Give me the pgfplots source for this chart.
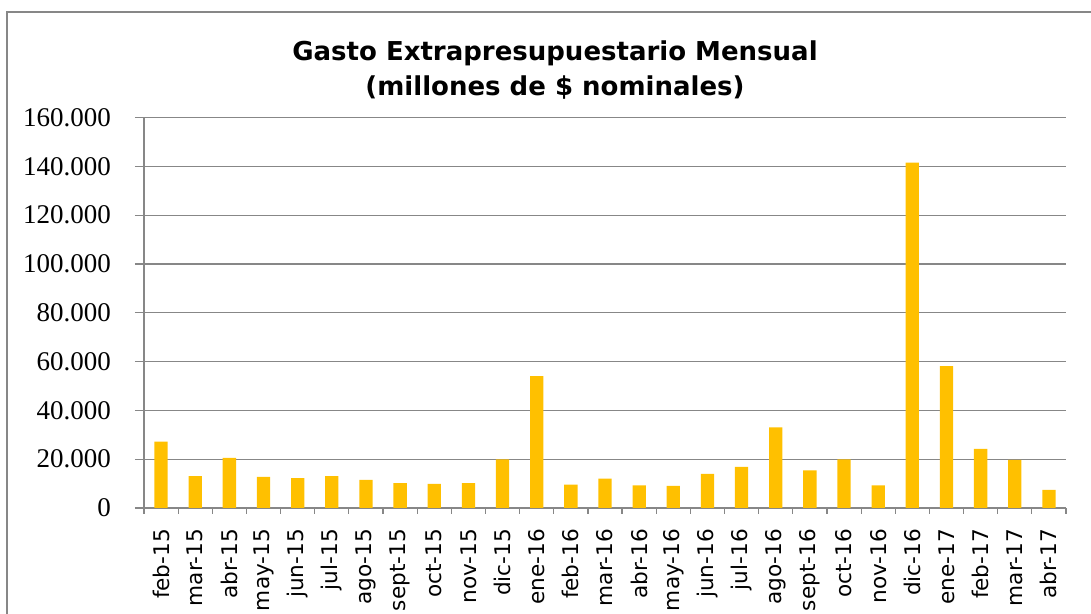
\documentclass[border=0pt]{standalone}
\usepackage{fontspec}
\setmainfont{Liberation Serif}
\newfontfamily\dejavu{DejaVu Sans}
\usepackage{pgfplots}
\pgfplotsset{compat=1.18}
\definecolor{barcol}{HTML}{FFC000}
\definecolor{gridcol}{HTML}{878787}
\begin{document}
\begin{tikzpicture}
\path[use as bounding box] (0,0) rectangle (545.5pt,307pt);
\draw[gridcol, line width=0.7pt] (3.5pt,-2pt) -- (3.5pt,301pt) -- (548pt,301pt);
\node[align=center, font=\fontsize{13}{17.5}\selectfont\dejavu\bfseries] at (277.5pt,271.75pt)
  {Gasto Extrapresupuestario Mensual\\(millones de \$ nominales)};
\begin{axis}[
  at={(72pt,53pt)}, anchor=south west,
  scale only axis, width=461pt, height=195.25pt,
  xmin=-0.5, xmax=26.5, ymin=0, ymax=160000,
  ytick={0,20000,40000,60000,80000,100000,120000,140000,160000},
  yticklabels={0,20.000,40.000,60.000,80.000,100.000,120.000,140.000,160.000},
  scaled y ticks=false,
  ymajorgrids,
  major grid style={gridcol, line width=0.6pt},
  axis x line*=bottom, axis y line*=left,
  axis line style={gridcol, line width=0.6pt, -},
  tick align=outside,
  major tick length=4.5pt,
  minor tick length=3pt,
  every tick/.style={gridcol, line width=0.6pt},
  xtick={0,...,26},
  major x tick style={draw=none},
  minor xtick={-0.5,0.5,...,26.5},
  minor x tick style={draw=gridcol, line width=0.6pt},
  xticklabels={feb-15,mar-15,abr-15,may-15,jun-15,jul-15,ago-15,sept-15,oct-15,nov-15,dic-15,ene-16,feb-16,mar-16,abr-16,may-16,jun-16,jul-16,ago-16,sept-16,oct-16,nov-16,dic-16,ene-17,feb-17,mar-17,abr-17},
  xticklabel style={rotate=90, anchor=east, font=\fontsize{10.8}{12}\selectfont\dejavu, xshift=-2.5pt},
  yticklabel style={font=\fontsize{13.5}{15}\selectfont, xshift=-8.5pt},
  ybar, bar width=6.65pt,
]
\addplot[fill=barcol, draw=none] coordinates {
(0,27200) (1,13100) (2,20500) (3,12800) (4,12200) (5,13100) (6,11500) (7,10200) (8,9900) (9,10200)
(10,19900) (11,54000) (12,9600) (13,12000) (14,9300) (15,9100) (16,14000) (17,16800) (18,33000)
(19,15400) (20,19900) (21,9300) (22,141500) (23,58100) (24,24200) (25,19700) (26,7400)
};
\end{axis}
\end{tikzpicture}
\end{document}
